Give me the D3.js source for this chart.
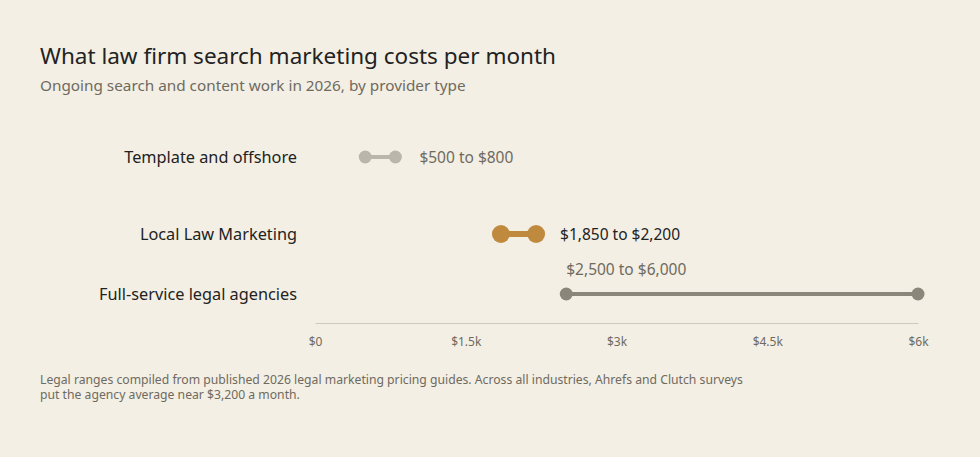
<!DOCTYPE html>
<html><head><meta charset="utf-8">
<script src="https://cdn.jsdelivr.net/npm/d3@7"></script>
<style>
body{margin:0;background:#f3efe4;font-family:"Noto Sans",sans-serif;}
</style></head>
<body><svg id="chart"></svg>
<script>
const categories = ["Template and offshore", "Local Law Marketing", "Full-service legal agencies"];
const lows = [500, 1850, 2500];
const highs = [800, 2200, 6000];
const rangeLabels = ["$500 to $800", "$1,850 to $2,200", "$2,500 to $6,000"];
const tickValues = [0, 1500, 3000, 4500, 6000];
const tickLabels = ["$0", "$1.5k", "$3k", "$4.5k", "$6k"];

const width = 980, height = 457;
const svg = d3.select("#chart").attr("width", width).attr("height", height);

svg.append("text").attr("x", 40).attr("y", 64).attr("font-size", 22.5).attr("fill", "#222")
	.text("What law firm search marketing costs per month");
svg.append("text").attr("x", 40).attr("y", 91).attr("font-size", 15.3).attr("fill", "#6f6a60")
	.text("Ongoing search and content work in 2026, by provider type");

const x = d3.scaleLinear().domain([0, 6000]).range([315, 918]);
const rowY = [157, 234, 294];
const colors = ["#bab6ab", "#c08a3e", "#8a877a"];
const radii = [6.5, 9, 6.5];
const strokeW = [4, 6, 4];

// axis
const axis = svg.append("g").attr("transform", "translate(0,323)")
	.call(d3.axisBottom(x).tickValues(tickValues).tickFormat((d, i) => tickLabels[i]).tickSize(0).tickPadding(14));
axis.select(".domain").attr("stroke", "#cfc9bb");
axis.selectAll("text").attr("font-size", 12).attr("fill", "#6f6a60").attr("font-family", "Noto Sans");

categories.forEach((c, i) => {
	const y = rowY[i];
	svg.append("text").attr("x", 297).attr("y", y + 6).attr("text-anchor", "end")
		.attr("font-size", 16.3).attr("fill", "#222").text(c);
	svg.append("line").attr("x1", x(lows[i])).attr("x2", x(highs[i])).attr("y1", y).attr("y2", y)
		.attr("stroke", colors[i]).attr("stroke-width", strokeW[i]);
	[lows[i], highs[i]].forEach(v => svg.append("circle").attr("cx", x(v)).attr("cy", y).attr("r", radii[i]).attr("fill", colors[i]));
	const above = i === 2;
	svg.append("text")
		.attr("x", above ? x(lows[i]) : x(highs[i]) + 24)
		.attr("y", above ? y - 19 : y + 6)
		.attr("font-size", 15.5).attr("fill", i === 1 ? "#222" : "#6f6a60").text(rangeLabels[i]);
});

const foot = ["Legal ranges compiled from published 2026 legal marketing pricing guides. Across all industries, Ahrefs and Clutch surveys",
	"put the agency average near $3,200 a month."];
foot.forEach((t, i) => svg.append("text").attr("x", 40).attr("y", 384 + i * 15)
	.attr("font-size", 12.2).attr("fill", "#6f6a60").text(t));
</script></body></html>
